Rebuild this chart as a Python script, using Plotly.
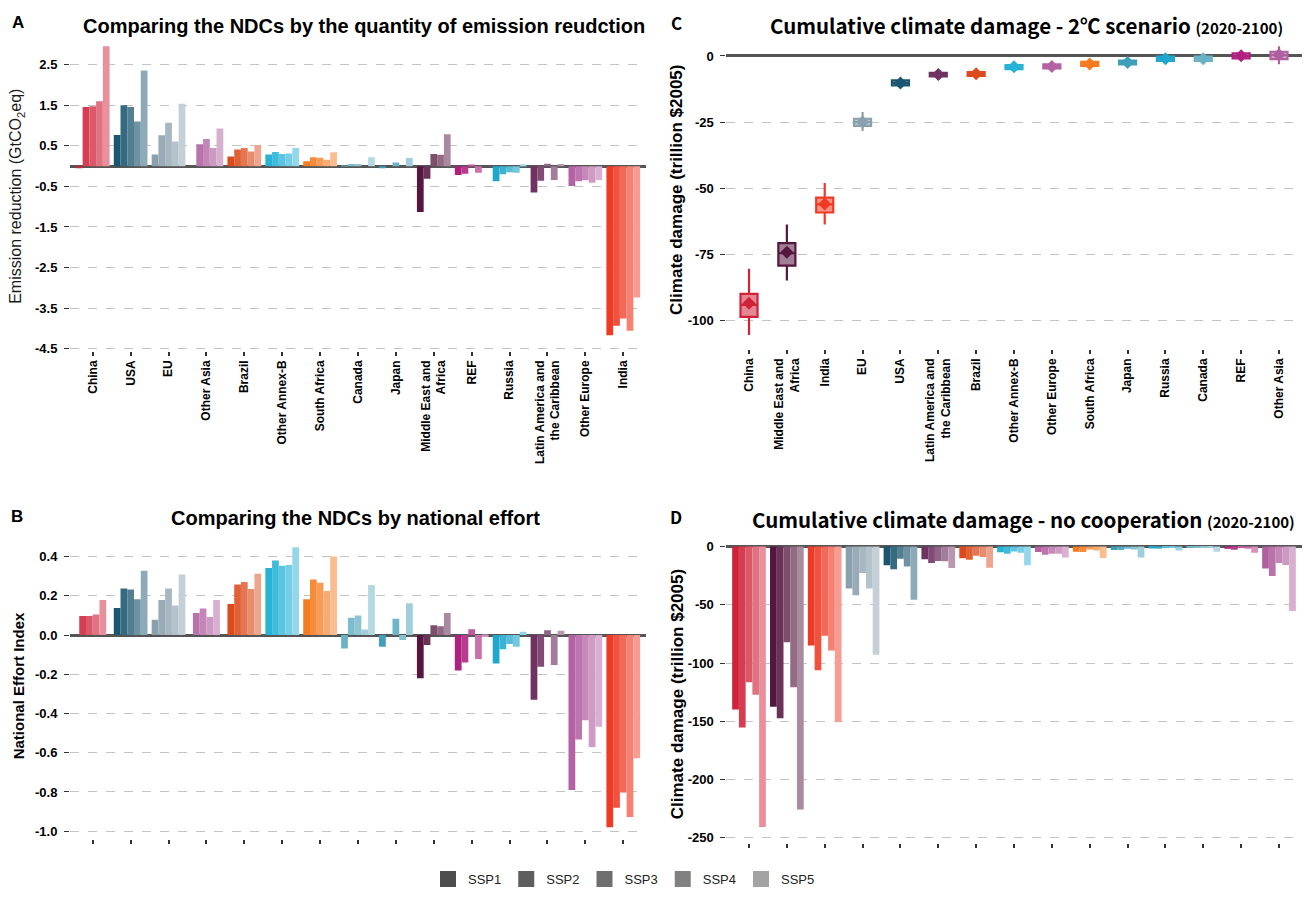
import plotly.graph_objects as go

W, H = 1304, 897
FONT = "Liberation Sans, Arial, sans-serif"
CJK = "Noto Sans CJK SC, Noto Sans, sans-serif"

ssp_names = ["SSP1", "SSP2", "SSP3", "SSP4", "SSP5"]
legend_grays = ["#4D4D4D", "#5E5E5E", "#6F6F6F", "#818181", "#A3A3A3"]

regions_ab = ["China", "USA", "EU", "Other Asia", "Brazil", "Other Annex-B", "South Africa",
              "Canada", "Japan", "Middle East and Africa", "REF", "Russia",
              "Latin America and the Caribbean", "Other Europe", "India"]
regions_cd = ["China", "Middle East and Africa", "India", "EU", "USA",
              "Latin America and the Caribbean", "Brazil", "Other Annex-B", "Other Europe",
              "South Africa", "Japan", "Russia", "Canada", "REF", "Other Asia"]
label_text = {"Middle East and Africa": "Middle East and<br>Africa",
              "Latin America and the Caribbean": "Latin America and<br>the Caribbean"}

# Panel A: emission reduction (GtCO2eq), regions_ab order
emis_ssp1 = [-0.05, 0.77, 0.29, 0.00, 0.24, 0.29, 0.12, 0.01, -0.05, -1.13, -0.22, -0.37, -0.65, -0.49, -4.17]
emis_ssp2 = [1.46, 1.50, 0.76, 0.54, 0.41, 0.35, 0.22, 0.05, 0.00, -0.31, -0.19, -0.20, -0.36, -0.37, -3.94]
emis_ssp3 = [1.48, 1.46, 1.07, 0.67, 0.45, 0.30, 0.21, 0.05, 0.09, 0.30, 0.04, -0.15, 0.06, -0.35, -3.76]
emis_ssp4 = [1.60, 1.10, 0.61, 0.45, 0.36, 0.31, 0.16, 0.00, 0.00, 0.28, -0.16, -0.16, -0.34, -0.41, -4.06]
emis_ssp5 = [2.96, 2.36, 1.54, 0.93, 0.52, 0.45, 0.34, 0.22, 0.20, 0.79, 0.00, 0.02, 0.05, -0.34, -3.24]

# Panel B: national effort index, regions_ab order
effort_ssp1 = [None, 0.138, 0.078, None, 0.158, 0.342, 0.183, -0.068, -0.060, -0.220, -0.181, -0.145, -0.330, -0.790, -0.980]
effort_ssp2 = [0.097, 0.237, 0.178, 0.112, 0.258, 0.380, 0.283, 0.088, 0.000, -0.051, -0.140, -0.073, -0.162, -0.532, -0.880]
effort_ssp3 = [0.097, 0.232, 0.237, 0.135, 0.270, 0.353, 0.267, 0.100, 0.083, 0.050, 0.030, -0.046, 0.025, -0.434, -0.802]
effort_ssp4 = [0.105, 0.183, 0.150, 0.092, 0.235, 0.357, 0.225, 0.028, -0.025, 0.045, -0.122, -0.060, -0.153, -0.571, -0.927]
effort_ssp5 = [0.178, 0.328, 0.308, 0.178, 0.312, 0.448, 0.400, 0.255, 0.162, 0.112, -0.010, 0.017, 0.022, -0.468, -0.628]

# Panel C: cumulative damage, 2C scenario (box statistics), regions_cd order
dmg2c_low = [-105.4, -84.8, -63.6, -28.3, -11.7, -8.5, -8.4, -5.6, -5.6, -4.6, -4.0, -2.7, -2.7, -1.2, -3.1]
dmg2c_q1 = [-98.5, -79.2, -59.1, -26.4, -11.1, -7.7, -7.5, -5.0, -4.7, -3.7, -3.2, -1.9, -1.9, -0.9, -1.2]
dmg2c_med = [-94.0, -74.5, -56.0, -25.0, -10.2, -7.0, -6.8, -4.2, -4.0, -3.0, -2.5, -1.0, -1.0, 0.0, 0.3]
dmg2c_q3 = [-89.8, -70.7, -53.5, -23.7, -9.2, -6.4, -6.1, -3.4, -3.2, -2.2, -1.7, -0.2, -0.2, 1.0, 1.6]
dmg2c_high = [-80.3, -63.6, -48.0, -21.2, -8.7, -5.6, -5.2, -2.5, -2.5, -1.5, -1.1, 0.6, 0.7, 1.5, 3.7]
dmg2c_mean = [-93.4, -74.1, -55.9, -24.9, -10.2, -7.0, -6.7, -4.1, -4.0, -3.0, -2.5, -1.0, -1.0, 0.1, 0.5]

# Panel D: cumulative damage, no cooperation, regions_cd order
nocoop_ssp1 = [-139.8, -137.5, -85.0, -36.1, -16.2, -11.1, -10.2, -5.1, -4.8, -4.5, -3.1, -1.7, -1.1, -2.0, -19.0]
nocoop_ssp2 = [-155.4, -147.4, -106.3, -41.8, -19.6, -14.2, -11.4, -6.3, -7.1, -4.8, -3.1, -2.0, -1.1, -2.8, -25.3]
nocoop_ssp3 = [-116.5, -82.1, -76.7, -22.7, -10.5, -12.5, -8.0, -4.3, -6.3, -2.6, -2.0, -1.1, -0.9, -1.4, -14.2]
nocoop_ssp4 = [-127.3, -120.7, -89.2, -36.1, -17.3, -12.8, -9.1, -5.4, -6.3, -3.4, -2.6, -1.4, -1.4, -2.0, -15.9]
nocoop_ssp5 = [-240.6, -225.6, -150.6, -92.9, -45.7, -18.5, -18.2, -16.2, -9.4, -9.9, -9.4, -3.4, -4.5, -5.4, -55.4]

# tick values / labels
a_ticks = [2.5, 1.5, 0.5, -0.5, -1.5, -2.5, -3.5, -4.5]
a_ticktext = ["2.5", "1.5", "0.5", "-0.5", "-1.5", "-2.5", "-3.5", "-4.5"]
b_ticks = [0.4, 0.2, 0.0, -0.2, -0.4, -0.6, -0.8, -1.0]
b_ticktext = ["0.4", "0.2", "0.0", "-0.2", "-0.4", "-0.6", "-0.8", "-1.0"]
c_ticks = [0, -25, -50, -75, -100]
c_ticktext = ["0", "-25", "-50", "-75", "-100"]
d_ticks = [0, -50, -100, -150, -200, -250]
d_ticktext = ["0", "-50", "-100", "-150", "-200", "-250"]

# styles
region_color = {
    "China": "#D0233A", "USA": "#1B5670", "EU": "#8AA0AD", "Other Asia": "#B0609F",
    "Brazil": "#DD4B1C", "Other Annex-B": "#27B2D6", "South Africa": "#F47B20",
    "Canada": "#6AB3C5", "Japan": "#3F9FB8", "Middle East and Africa": "#55163F",
    "REF": "#B0207F", "Russia": "#1FA8CC", "Latin America and the Caribbean": "#703262",
    "Other Europe": "#B462A4", "India": "#EF3A25",
}
shade = [0.0, 0.12, 0.24, 0.36, 0.5]


def tint(hexcol, t):
    h = hexcol.lstrip("#")
    r, g, b = (int(h[i:i + 2], 16) for i in (0, 2, 4))
    r, g, b = (round(c + (255 - c) * t) for c in (r, g, b))
    return f"rgb({r},{g},{b})"


def px_x(p):
    return p / W


def px_y(p):
    return 1 - p / H


emis = [emis_ssp1, emis_ssp2, emis_ssp3, emis_ssp4, emis_ssp5]
effort = [effort_ssp1, effort_ssp2, effort_ssp3, effort_ssp4, effort_ssp5]
nocoop = [nocoop_ssp1, nocoop_ssp2, nocoop_ssp3, nocoop_ssp4, nocoop_ssp5]

fig = go.Figure()

# Panel A
for i, vals in enumerate(emis):
    fig.add_trace(go.Bar(x=regions_ab, y=vals, xaxis="x", yaxis="y", showlegend=False,
                         marker=dict(color=[tint(region_color[r], shade[i]) for r in regions_ab],
                                     line=dict(width=0)), name=ssp_names[i]))

# Panel B (groups with a missing scenario are centred on the tick)
slot = 0.89 / 5
n_valid = [sum(effort[i][j] is not None for i in range(5)) for j in range(len(regions_ab))]
for i, vals in enumerate(effort):
    offs = []
    for j in range(len(regions_ab)):
        k = sum(effort[m][j] is not None for m in range(i))
        offs.append(-n_valid[j] * slot / 2 + k * slot)
    fig.add_trace(go.Bar(x=regions_ab, y=vals, xaxis="x2", yaxis="y2", showlegend=False,
                         offset=offs, width=slot,
                         marker=dict(color=[tint(region_color[r], shade[i]) for r in regions_ab],
                                     line=dict(width=0)), name=ssp_names[i]))

# Panel C
for j, r in enumerate(regions_cd):
    col = region_color[r]
    fig.add_trace(go.Box(x=[r], q1=[dmg2c_q1[j]], median=[dmg2c_med[j]], q3=[dmg2c_q3[j]],
                         lowerfence=[dmg2c_low[j]], upperfence=[dmg2c_high[j]],
                         xaxis="x3", yaxis="y3", showlegend=False, width=0.45,
                         whiskerwidth=0, line=dict(color=col, width=2.2),
                         fillcolor=tint(col, 0.45), boxpoints=False, name=r))
fig.add_trace(go.Scatter(x=regions_cd, y=dmg2c_mean, xaxis="x3", yaxis="y3", mode="markers",
                         showlegend=False,
                         marker=dict(symbol="diamond", size=10,
                                     color=[region_color[r] for r in regions_cd])))

# Panel D
for i, vals in enumerate(nocoop):
    fig.add_trace(go.Bar(x=regions_cd, y=vals, xaxis="x4", yaxis="y4", showlegend=False,
                         marker=dict(color=[tint(region_color[r], shade[i]) for r in regions_cd],
                                     line=dict(width=0)), name=ssp_names[i]))

# Legend entries
for i, nm in enumerate(ssp_names):
    fig.add_trace(go.Scatter(x=[None], y=[None], xaxis="x", yaxis="y", mode="markers", name=nm,
                             marker=dict(symbol="square", size=16, color=legend_grays[i])))

tickfont = dict(family=FONT, size=13, color="black", weight="bold")
labfont = dict(family=FONT, size=12, color="black", weight="bold")
grid = dict(showgrid=True, gridcolor="#C4C4C4", gridwidth=1.2, griddash="dash",
            zeroline=True, zerolinecolor="#555555", zerolinewidth=2.6,
            ticks="outside", ticklen=5, tickwidth=1.2, tickcolor="#333333",
            ticklabelstandoff=4,
            tickmode="array", tickfont=tickfont, showline=False)
xbase = dict(type="category", range=[-0.6, 14.6], showgrid=False, zeroline=False, showline=False,
             ticks="outside", ticklen=4, tickwidth=1.5, tickcolor="#333333", tickmode="array")

dom_ab = [px_x(70), px_x(646)]
dom_cd = [px_x(726.3), px_x(1301.7)]

fig.update_layout(
    width=W, height=H, margin=dict(l=0, r=0, t=0, b=0),
    paper_bgcolor="white", plot_bgcolor="white",
    barmode="group", bargap=0.11, bargroupgap=0, boxmode="overlay",
    font=dict(family=FONT, size=12, color="#222222"),
    xaxis=dict(**xbase, domain=dom_ab, anchor="y", categoryorder="array", categoryarray=regions_ab,
               tickvals=regions_ab, ticktext=[label_text.get(r, r) for r in regions_ab],
               tickangle=-90, tickfont=labfont),
    yaxis=dict(**grid, domain=[px_y(350.5), px_y(41)], anchor="x", range=[-4.55, 3.0],
               tickvals=a_ticks, ticktext=a_ticktext),
    xaxis2=dict(**xbase, domain=dom_ab, anchor="y2", categoryorder="array", categoryarray=regions_ab,
                tickvals=regions_ab, showticklabels=False),
    yaxis2=dict(**grid, domain=[px_y(844.5), px_y(545.5)], anchor="x2", range=[-1.04, 0.467],
                tickvals=b_ticks, ticktext=b_ticktext),
    xaxis3=dict(**xbase, domain=dom_cd, anchor="y3", categoryorder="array", categoryarray=regions_cd,
                tickvals=regions_cd, ticktext=[label_text.get(r, r) for r in regions_cd],
                tickangle=-90, tickfont=labfont),
    yaxis3=dict(**grid, domain=[px_y(348.5), px_y(36.5)], anchor="x3", range=[-110.5, 6],
                tickvals=c_ticks, ticktext=c_ticktext),
    xaxis4=dict(**xbase, domain=dom_cd, anchor="y4", categoryorder="array", categoryarray=regions_cd,
                tickvals=regions_cd, showticklabels=False),
    yaxis4=dict(**grid, domain=[px_y(848), px_y(545)], anchor="x4", range=[-254, 3],
                tickvals=d_ticks, ticktext=d_ticktext),
    legend=dict(orientation="h", x=px_x(624), xanchor="center", y=px_y(885), yanchor="middle",
                font=dict(family=FONT, size=13, color="#222222"), itemclick=False,
                bgcolor="rgba(0,0,0,0)"),
)

ann = []


def add_text(text, x, y, size, family=FONT, angle=0, bold=True, color="black"):
    ann.append(dict(text=text, x=px_x(x), y=px_y(y), xref="paper", yref="paper",
                    showarrow=False, xanchor="center", yanchor="middle", textangle=angle,
                    font=dict(family=family, size=size, color=color,
                              weight="bold" if bold else "normal")))


add_text("A", 18, 19, 17)
add_text("B", 17, 518, 17)
add_text("C", 676, 19, 17, family=CJK)
add_text("D", 676, 518, 17, family=CJK)
add_text("Comparing the NDCs by the quantity of emission reudction", 364, 22, 20)
add_text("Comparing the NDCs by national effort", 355, 520, 20)
add_text("Cumulative climate damage - 2℃ scenario <span style='font-size:15px'>(2020-2100)</span>",
         1026, 21, 20.5, family=CJK)
add_text("Cumulative climate damage - no cooperation <span style='font-size:15px'>(2020-2100)</span>",
         1023, 521, 20.5, family=CJK)
add_text("Emission reduction (GtCO<sub>2</sub>eq)", 17, 195, 16, angle=-90, bold=False, color="#1a1a1a")
add_text("National Effort Index", 18, 690, 15, angle=-90)
add_text("Climate damage (trillion $2005)", 677, 188, 17, angle=-90)
add_text("Climate damage (trillion $2005)", 677, 698, 17, angle=-90)

fig.update_layout(annotations=ann)
fig.write_html("out.html")
